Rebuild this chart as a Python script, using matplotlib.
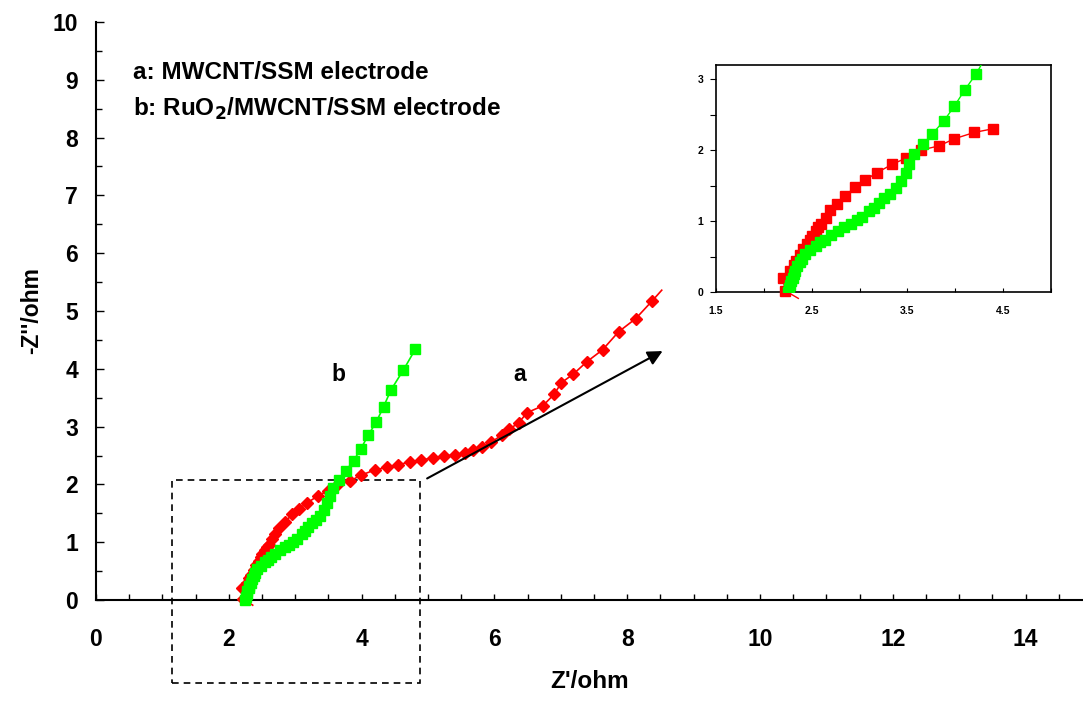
import matplotlib
matplotlib.use("Agg")
import matplotlib.pyplot as plt
from matplotlib.ticker import MultipleLocator, FixedLocator
from matplotlib.patches import Rectangle

plt.rcParams['font.family'] = ['Liberation Sans', 'DejaVu Sans']
plt.rcParams['font.weight'] = 'bold'

# Series a: MWCNT/SSM electrode (red)
a_x = [2.36, 2.22, 2.20, 2.27, 2.31, 2.34, 2.38, 2.41, 2.45, 2.48, 2.50, 2.54, 2.57, 2.60,
       2.65, 2.69, 2.76, 2.85, 2.95, 3.06, 3.18, 3.34, 3.49, 3.64, 3.83, 3.99, 4.20,
       4.39, 4.55, 4.73, 4.90, 5.07, 5.24, 5.41, 5.56, 5.68, 5.81, 5.95, 6.11, 6.22,
       6.37, 6.49, 6.73, 6.90, 7.01, 7.19, 7.39, 7.63, 7.87, 8.13, 8.38, 8.52]
a_y = [-0.09, 0.02, 0.20, 0.30, 0.38, 0.44, 0.52, 0.60, 0.68, 0.74, 0.79, 0.86, 0.91, 0.96,
       1.05, 1.15, 1.24, 1.35, 1.48, 1.58, 1.68, 1.80, 1.89, 2.00, 2.06, 2.16, 2.25,
       2.30, 2.34, 2.39, 2.42, 2.46, 2.49, 2.51, 2.55, 2.60, 2.65, 2.73, 2.85, 2.95,
       3.07, 3.24, 3.36, 3.56, 3.76, 3.91, 4.12, 4.33, 4.64, 4.87, 5.18, 5.36]

# Series b: RuO2/MWCNT/SSM electrode (green)
b_x = [2.25, 2.26, 2.27, 2.28, 2.30, 2.31, 2.33, 2.35, 2.38, 2.40, 2.43, 2.48, 2.54, 2.59,
       2.64, 2.70, 2.77, 2.84, 2.91, 2.97, 3.03, 3.10, 3.15, 3.20, 3.26, 3.32, 3.38,
       3.43, 3.48, 3.52, 3.57, 3.66, 3.76, 3.88, 3.99, 4.10, 4.22, 4.33, 4.44, 4.63, 4.81]
b_y = [0.00, 0.05, 0.10, 0.15, 0.20, 0.25, 0.30, 0.36, 0.42, 0.47, 0.53, 0.59, 0.65, 0.70,
       0.74, 0.80, 0.86, 0.91, 0.96, 1.01, 1.06, 1.14, 1.19, 1.26, 1.33, 1.38, 1.46,
       1.56, 1.68, 1.80, 1.94, 2.08, 2.23, 2.41, 2.62, 2.85, 3.08, 3.34, 3.63, 3.98, 4.34]

x_ticks = [0, 2, 4, 6, 8, 10, 12, 14]
y_ticks = [0, 1, 2, 3, 4, 5, 6, 7, 8, 9, 10]
inset_x_ticks = [1.5, 2.5, 3.5, 4.5]
inset_y_ticks = [0, 1, 2, 3]

RED = '#ff0000'
GREEN = '#00ff00'
FS = 16.5

fig = plt.figure(figsize=(10.83, 7.02), dpi=100)
ax = fig.add_axes([96 / 1083, 1 - 600 / 702, 1 - 96 / 1083, (600 - 22) / 702])

ax.plot(a_x, a_y, color=RED, lw=1.2, marker='D', ms=6.5, mec=RED, mfc=RED,
        markevery=list(range(1, len(a_x) - 1)), clip_on=False, zorder=3)
ax.plot(b_x, b_y, color=GREEN, lw=1.2, marker='s', ms=7, mec=GREEN, mfc=GREEN,
        clip_on=False, zorder=4)

ax.set_xlim(0, (1083 - 96) / 66.4)
ax.set_ylim(0, 10)
ax.spines['top'].set_visible(False)
ax.spines['right'].set_visible(False)
ax.spines['left'].set_linewidth(1.5)
ax.spines['bottom'].set_linewidth(1.5)
ax.xaxis.set_major_locator(FixedLocator(x_ticks))
ax.xaxis.set_minor_locator(MultipleLocator(0.5))
ax.yaxis.set_major_locator(FixedLocator(y_ticks))
ax.yaxis.set_minor_locator(MultipleLocator(0.5))
ax.tick_params(axis='x', which='both', direction='in', length=4, width=1, pad=20, labelsize=FS)
ax.tick_params(axis='y', which='major', direction='in', length=6, width=1, pad=13, labelsize=FS)
ax.tick_params(axis='y', which='minor', direction='in', length=4, width=1)
for lbl in ax.get_xticklabels() + ax.get_yticklabels():
    lbl.set_fontweight('bold')

ax.set_xlabel("Z'/ohm", fontsize=FS + 1, fontweight='bold', labelpad=14)
ax.set_ylabel("-Z''/ohm", fontsize=FS, fontweight='bold', labelpad=7)

LFS = 17.5
ax.text(0.55, 9.12, "a: MWCNT/SSM electrode", fontsize=LFS, fontweight='bold', va='center')
ax.text(0.55, 8.5, "b: RuO$_\\mathbf{2}$/MWCNT/SSM electrode", fontsize=LFS, fontweight='bold',
        va='center')
ax.text(3.65, 3.9, "b", fontsize=FS, fontweight='bold', ha='center', va='center')
ax.text(6.38, 3.9, "a", fontsize=FS, fontweight='bold', ha='center', va='center')

rect = Rectangle((1.14, -1.44), 4.88 - 1.14, 2.08 + 1.44, fill=False, ls=(0, (4, 3)),
                 lw=1.2, ec='black', clip_on=False)
ax.add_patch(rect)
ax.annotate('', xy=(8.57, 4.33), xytext=(4.95, 2.08),
            arrowprops=dict(arrowstyle='-|>', color='black', lw=1.5, mutation_scale=22),
            annotation_clip=False)

# Inset
ins = fig.add_axes([716 / 1083, 1 - 292 / 702, (1051 - 716) / 1083, (292 - 65) / 702])
n_in = 28
ins.plot(a_x[:n_in], a_y[:n_in], color=RED, lw=1.0, marker='s', ms=6.5, mec=RED, mfc=RED,
         markevery=list(range(1, n_in)), clip_on=False, zorder=3)
ins.plot(b_x, b_y, color=GREEN, lw=1.0, marker='s', ms=6.5, mec=GREEN, mfc=GREEN, zorder=4)
ins.set_xlim(1.5, 5.0)
ins.set_ylim(0, 3.2)
ins.xaxis.set_major_locator(FixedLocator(inset_x_ticks))
ins.xaxis.set_minor_locator(MultipleLocator(0.5))
ins.yaxis.set_major_locator(FixedLocator(inset_y_ticks))
ins.yaxis.set_minor_locator(MultipleLocator(0.5))
ins.tick_params(axis='x', which='both', direction='in', length=3, width=0.8, labelsize=7.5, pad=10)
ins.tick_params(axis='y', which='both', direction='out', length=4, width=0.8, labelsize=7.5, pad=5)
for s in ins.spines.values():
    s.set_linewidth(1.2)
for lbl in ins.get_xticklabels() + ins.get_yticklabels():
    lbl.set_fontweight('bold')

fig.savefig('out.png', dpi=100)
